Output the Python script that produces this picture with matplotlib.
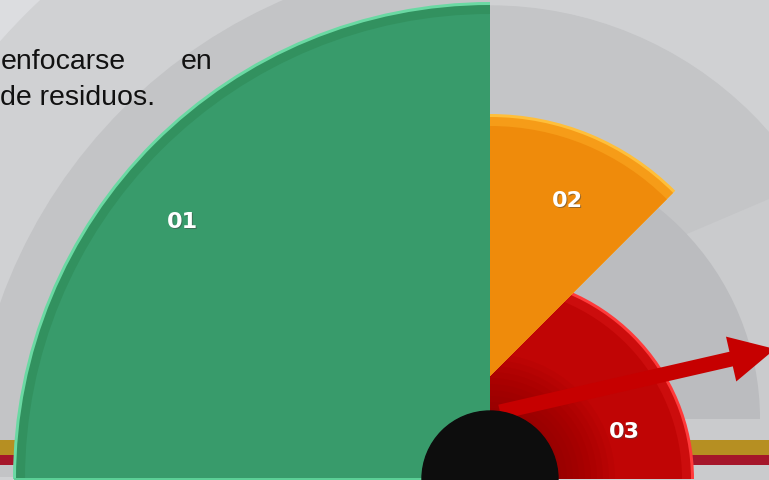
import matplotlib
matplotlib.use('Agg')
import matplotlib.pyplot as plt
from matplotlib.patches import Wedge, Circle, FancyArrow, Rectangle, Polygon

# sector data (pixel units)
labels = ['01', '02', '03']
radii = [477, 262, 204]
theta_start = [90, 45, 0]
theta_end = [180, 90, 90]
centers = [(490, 1), (490, 104), (490, 1)]
label_pos = [(182, 259), (567, 280), (624, 49)]
base_colors = ['#389b6b', '#ef8b0b', '#c00505']
rim_colors = ['#6ad9a3', '#ffbf3a', '#ff3a3a']
mid_colors = ['#32915f', '#f69c18', '#cc0d0d']

text_lines = ['enfocarse', 'en', 'de residuos.']

W, H = 769, 481
fig = plt.figure(figsize=(W / 100, H / 100), dpi=100)
ax = fig.add_axes([0, 0, 1, 1])
ax.set_xlim(0, W)
ax.set_ylim(0, H)
ax.axis('off')

# background
ax.add_patch(Rectangle((0, 0), W, H, color='#dcdde0', zorder=0))
ax.add_patch(Circle((490, 3), 655, color='#d0d1d3', zorder=0.1))
ax.add_patch(Wedge((490, 104), 370, 0, 180, color='#c4c5c7', zorder=0.2))
# lighter ray below the orange tip
ax.add_patch(Polygon([(640, 226), (769, 281), (769, 0), (640, 0)],
                     closed=True, color='#cacbcd', lw=0, zorder=0.25))
# darker ring behind the red sector
ax.add_patch(Wedge((490, 61), 270, 0, 90, color='#bbbcbf', lw=0, zorder=0.3))
ax.add_patch(Wedge((490, 3), 520, 90, 180, color='#c3c4c6', lw=0, zorder=0.3))

# stripes at bottom
ax.add_patch(Rectangle((0, 25), W, 15, color='#b68f22', lw=0, zorder=0.5))
ax.add_patch(Rectangle((0, 15), W, 10, color='#a5162a', lw=0, zorder=0.5))

# sectors, red first so orange sits on top
order = [0, 2, 1]
for i in order:
    c, r = centers[i], radii[i]
    t1, t2 = theta_start[i], theta_end[i]
    z = 2 + order.index(i)
    ax.add_patch(Wedge(c, r, t1, t2, color=rim_colors[i], lw=0, zorder=z))
    ax.add_patch(Wedge(c, r - 3, t1, t2, color=mid_colors[i], lw=0, zorder=z))
    ax.add_patch(Wedge(c, r - 12, t1, t2, color=base_colors[i], lw=0, zorder=z))

# bevel line along the bottom of the green sector
ax.add_patch(Rectangle((14, 0), 476, 2, color='#5ccf96', lw=0, zorder=2.5))

# darker red shading near the hub
for rr in range(125, 68, -6):
    ax.add_patch(Wedge((490, 1), rr, 0, 90, color='#700000',
                       alpha=0.06, lw=0, zorder=3.1))

# arrow
ax.add_patch(FancyArrow(500, 68, 275, 63, width=15, head_width=46,
                        head_length=45, length_includes_head=True,
                        color='#c60000', lw=0, zorder=5))

# hub
ax.add_patch(Circle((490, 1), 68, color='#0d0d0d', zorder=6))

# labels
for lab, (x, y) in zip(labels, label_pos):
    ax.text(x + 1, y - 1, lab, color='#444444', alpha=0.5, fontsize=16,
            fontweight='bold', ha='center', va='center', zorder=7)
    ax.text(x, y, lab, color='white', fontsize=16, fontweight='bold',
            ha='center', va='center', zorder=8)

# body text
ax.text(1, H - 69, text_lines[0], fontsize=20.5, family='Liberation Sans',
        color='#111111', ha='left', va='baseline', zorder=9)
ax.text(212, H - 69, text_lines[1], fontsize=20.5, family='Liberation Sans',
        color='#111111', ha='right', va='baseline', zorder=9)
ax.text(0, H - 105, text_lines[2], fontsize=20.5, family='Liberation Sans',
        color='#111111', ha='left', va='baseline', zorder=9)

fig.savefig('out.png', dpi=100)
